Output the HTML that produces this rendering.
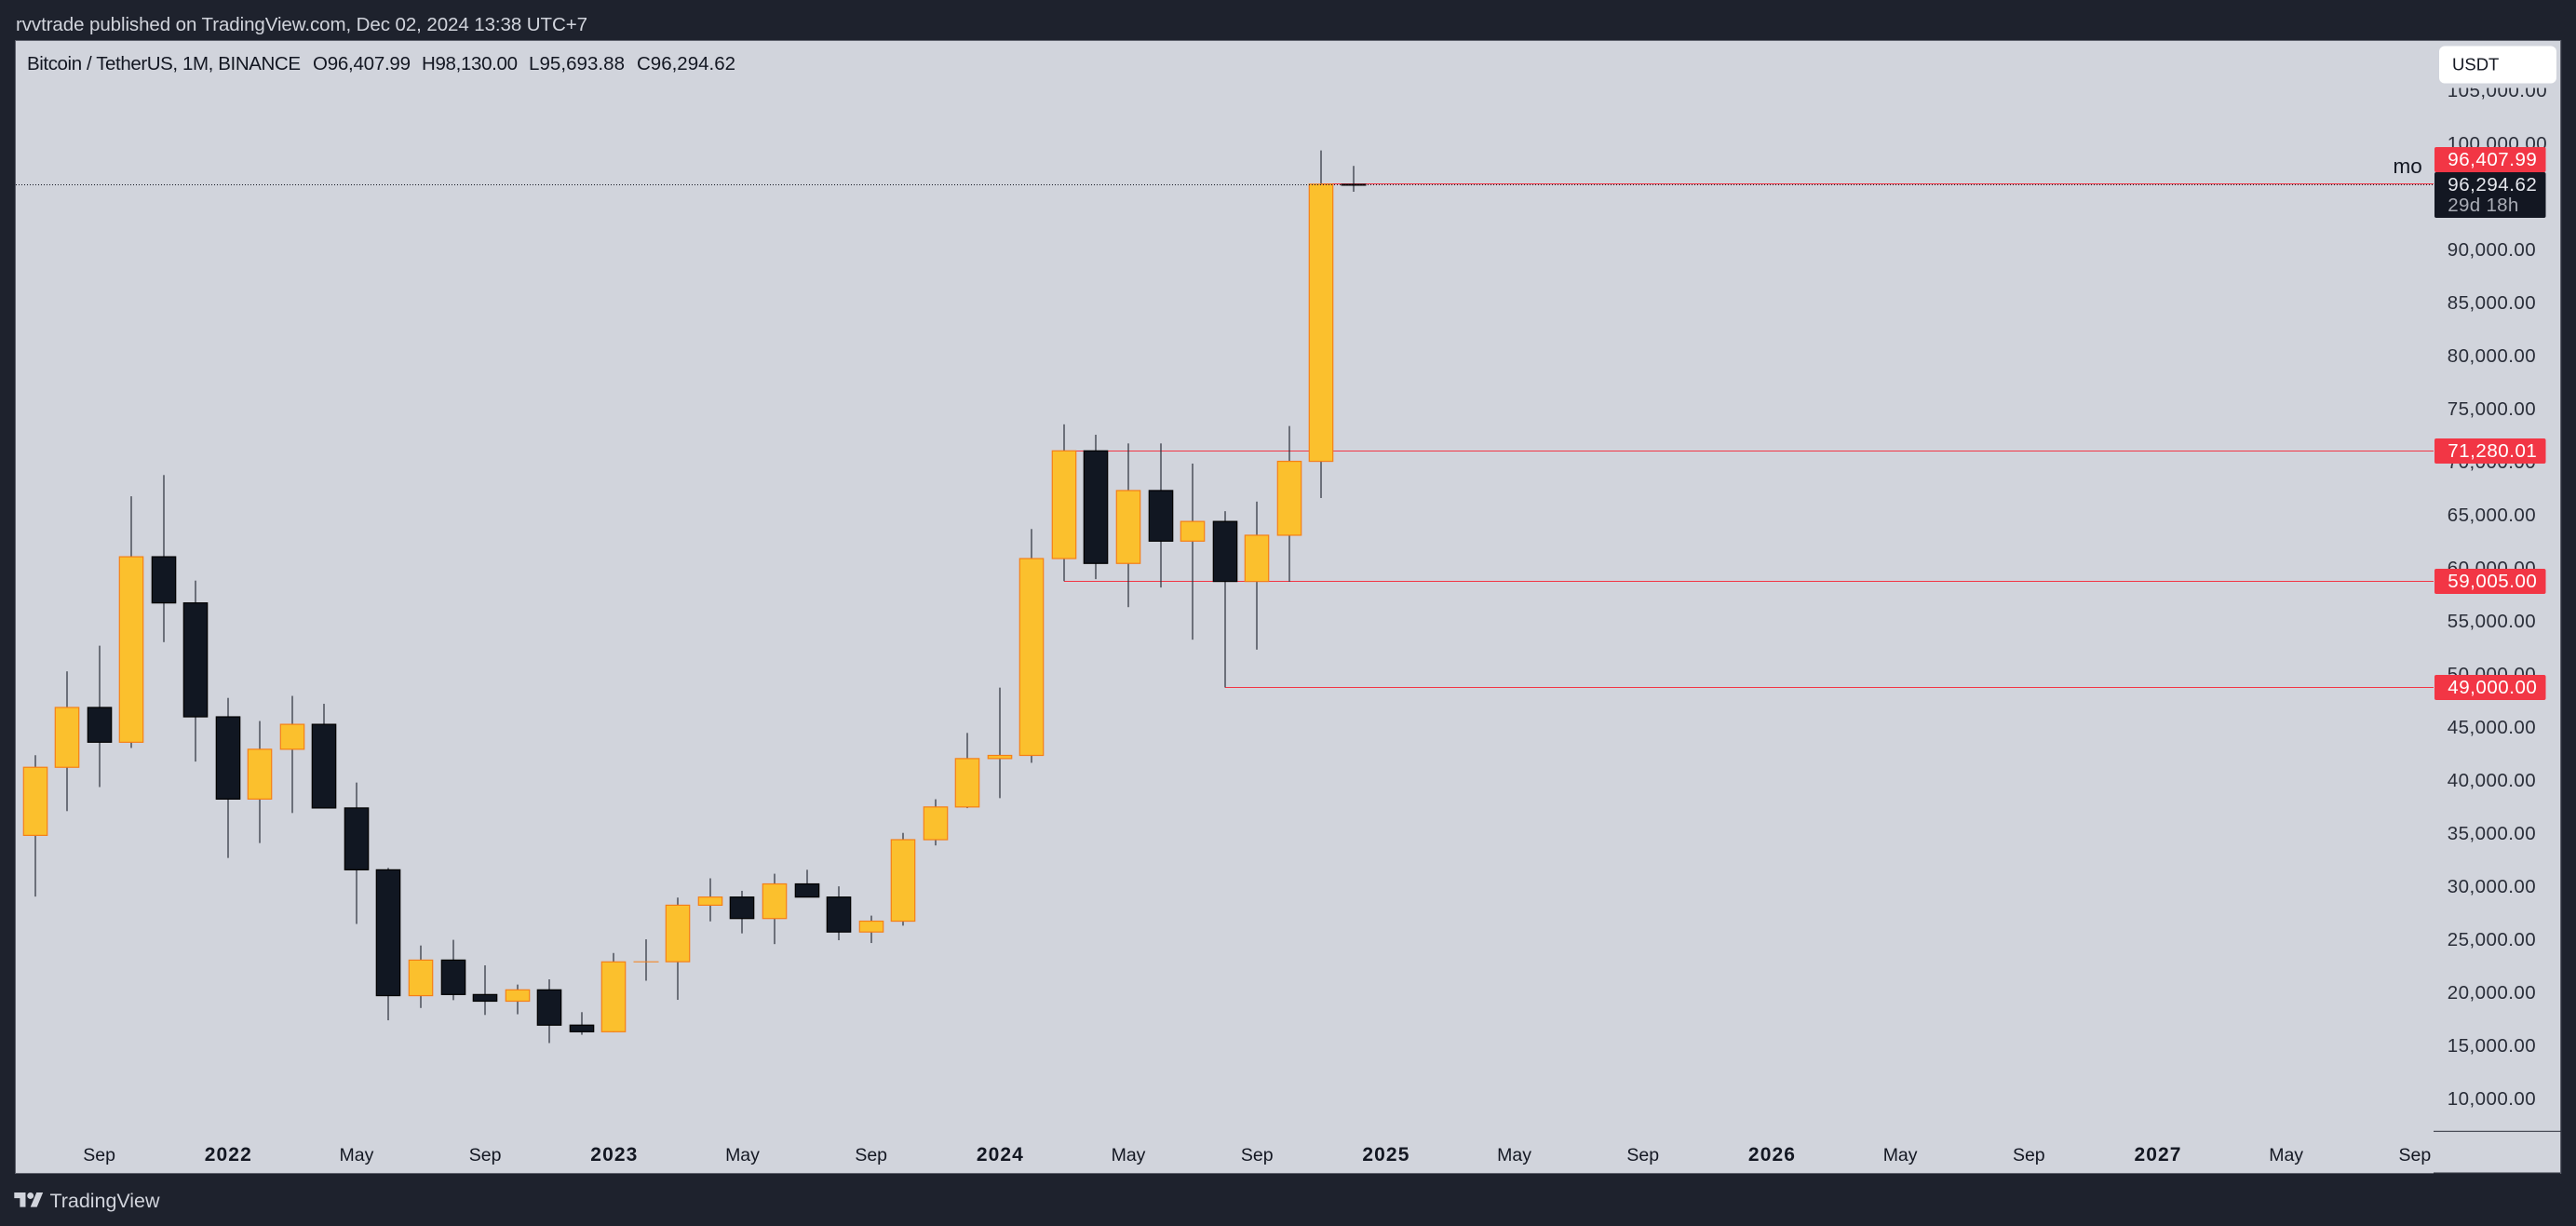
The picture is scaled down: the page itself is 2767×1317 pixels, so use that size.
<!DOCTYPE html>
<html lang="en">
<head>
<meta charset="utf-8">
<title>BTCUSDT monthly chart</title>
<style>
html,body{margin:0;padding:0;background:#1e222d;width:2767px;height:1317px;overflow:hidden}
svg{display:block;font-family:"Liberation Sans",sans-serif}
</style>
</head>
<body>
<svg id="chart" xmlns="http://www.w3.org/2000/svg" width="2767" height="1317" viewBox="0 0 2767 1317">
  <rect x="0" y="0" width="2767" height="1317" fill="#1e222d"/>
  <rect x="16.5" y="43.5" width="2734" height="1217" fill="#d1d4dc" stroke="#5d606b" stroke-width="1"/>
  <rect x="2614" y="1259.5" width="137" height="1.5" fill="#2a2e39"/>
  <rect x="2750" y="43" width="1.2" height="1218" fill="#5d606b"/>
  <text x="17" y="33" font-size="20.5" fill="#d1d4dc" textLength="614" lengthAdjust="spacing">rvvtrade published on TradingView.com, Dec 02, 2024 13:38 UTC+7</text>
  <g font-size="20.5" fill="#131722">
    <text x="29" y="75" textLength="294" lengthAdjust="spacing">Bitcoin / TetherUS, 1M, BINANCE</text>
    <text x="336" y="75" textLength="105" lengthAdjust="spacing">O96,407.99</text>
    <text x="453" y="75" textLength="103" lengthAdjust="spacing">H98,130.00</text>
    <text x="568" y="75" textLength="103" lengthAdjust="spacing">L95,693.88</text>
    <text x="684" y="75" textLength="106" lengthAdjust="spacing">C96,294.62</text>
  </g>
  <g id="levels"></g>
  <g id="candles"></g>
  <g id="last-line"></g>
  <g id="price-axis"></g>
  <g id="time-axis"></g>
  <rect x="2614" y="1214.8" width="137" height="1" fill="#2a2e39"/>
  <text x="2570.5" y="186" font-size="22.5" fill="#131722">mo</text>
  <rect x="2617" y="46" width="132" height="48.5" rx="8" fill="#d1d4dc"/>
  <rect x="2620" y="49.5" width="126" height="40" rx="6" fill="#ffffff"/>
  <text x="2634" y="75.5" font-size="18.5" fill="#131722">USDT</text>
  <g id="price-labels"></g>
  <g>
    <g transform="translate(15.3,1277.5) scale(0.87)" fill="#d1d4dc">
      <path d="M14 22H7V11H0V4h14v18zM28 22h-8l7.5-18h8L28 22z"/>
      <circle cx="20" cy="8" r="4"/>
    </g>
    <text x="53.5" y="1297" font-size="21.5" fill="#d1d4dc" textLength="118" lengthAdjust="spacing">TradingView</text>
  </g>
</svg>
<script>
// Monthly bars, Jul 2021 to Dec 2024
var categories = ["2021-07","2021-08","2021-09","2021-10","2021-11","2021-12","2022-01","2022-02","2022-03","2022-04","2022-05","2022-06","2022-07","2022-08","2022-09","2022-10","2022-11","2022-12","2023-01","2023-02","2023-03","2023-04","2023-05","2023-06","2023-07","2023-08","2023-09","2023-10","2023-11","2023-12","2024-01","2024-02","2024-03","2024-04","2024-05","2024-06","2024-07","2024-08","2024-09","2024-10","2024-11","2024-12"];
var opens  = [35045,41461,47100,43820,61300,56950,46216,38466,43160,45510,37630,31801,19942,23296,20048,19422,20490,17165,16542,23125,23141,28465,29233,27210,30472,29232,25940,26962,34639,37723,42283,42580,61130,71280,60672,67540,62772,64628,58973,63327,70292,96407.99];
var highs  = [42599,50500,52920,66999,69000,59053,48000,45821,48189,47444,40023,31982,24668,25202,22799,20988,21480,18387,23960,25250,29184,31000,29820,31431,31804,30244,27483,35280,38450,44700,48969,63913,73777,72797,71979,71980,70079,65593,66498,73620,99588,98130];
var lows   = [29278,37332,39600,43283,53256,42000,32917,34322,37155,37578,26700,17622,18781,19520,18125,18190,15476,16256,16499,21351,19549,26942,25811,24800,29500,25166,24901,26538,34097,37615,38555,41884,59005,59191,56552,58402,53485,49000,52550,58946,66835,95693.88];
var closes = [41462,47100,43824,61299,56950,46216,38466,43160,45510,37630,31801,19942,23293,20050,19422,20490,17163,16542,23125,23141,28465,29233,27210,30472,29232,25940,26962,34639,37723,42283,42580,61130,71280,60672,67540,62772,64628,58973,63327,70292,96408,96294.62];

// Axis tick labels
var priceTicks = [10000,15000,20000,25000,30000,35000,40000,45000,50000,55000,60000,65000,70000,75000,80000,85000,90000,95000,100000,105000];
var timeTickLabels = ["Sep","2022","May","Sep","2023","May","Sep","2024","May","Sep","2025","May","Sep","2026","May","Sep","2027","May","Sep"];
var timeTickStep = 4;
var timeTickFirst = 2;

// Marked levels and the bar each one starts from
var levelPrices = [96407.99,71280.01,59005.00,49000.00];
var levelStartBars = [40,32,32,37];
var lastPrice = 96294.62;
var countdownText = "29d 18h";

var SVGNS = "http://www.w3.org/2000/svg";
function xAt(i){ return 37.5 + 34.545 * i; }
function yAt(p){ return 738.3 - (p - 49000) * 0.0114; }
function fmt(v){ return v.toLocaleString("en-US",{minimumFractionDigits:2,maximumFractionDigits:2}); }
function make(tag, attrs, parent){
  var el = document.createElementNS(SVGNS, tag);
  for (var k in attrs) el.setAttribute(k, attrs[k]);
  parent.appendChild(el);
  return el;
}

var levelsG = document.getElementById("levels");
levelPrices.forEach(function(p,i){
  var ly = Math.round(yAt(p)) + 0.5 - (i === 0 ? 1 : 0);
  var ln = make("line",{x1:xAt(levelStartBars[i]),x2:2614,y1:ly,y2:ly,stroke:"#f23645","stroke-width":1},levelsG);
  
  
});

var candlesG = document.getElementById("candles");
categories.forEach(function(cat,i){
  var xc = Math.round(xAt(i));
  var up = closes[i] >= opens[i];
  var g = make("g",{},candlesG);
  
  
  var wick = make("rect",{x:xc-0.6,width:1.2,y:yAt(highs[i]),height:yAt(lows[i])-yAt(highs[i]),fill:"#2a2e39"},g);
  
  
  var top = yAt(Math.max(opens[i],closes[i]));
  var bot = yAt(Math.min(opens[i],closes[i]));
  var body;
  if (bot - top < 2) {
    body = make("rect",{x:xc-13.5,width:27,y:(top+bot)/2-(i===41?1:0.5),height:i===41?2:1,fill:i===41?"#000000":"#f57f17"},g);
  } else {
    body = make("rect",{x:xc-12.7,width:25.4,y:top,height:bot-top,fill:up?"#fbc02d":"#111722",stroke:up?"#f57f17":"#000000","stroke-width":1.2},g);
  }
  
  
});

var lastLineG = document.getElementById("last-line");
var dotted = make("line",{x1:17,x2:2614,y1:198.5,y2:198.5,stroke:"#131722","stroke-width":1,"stroke-dasharray":"1 2"},lastLineG);



var priceAxisG = document.getElementById("price-axis");
priceTicks.forEach(function(p){
  var t = make("text",{x:2628.7,y:yAt(p)+4,"font-size":20.5,fill:"#2a2e39",textLength:p>=100000?107:95,lengthAdjust:"spacing"},priceAxisG);
  t.textContent = fmt(p);
  
  
});

var timeAxisG = document.getElementById("time-axis");
timeTickLabels.forEach(function(label,i){
  var isYear = /^\d+$/.test(label);
  var t = make("text",{x:xAt(timeTickFirst + i*timeTickStep),y:1247,"text-anchor":"middle","font-size":isYear?21:19.5,"font-weight":isYear?"bold":"normal",fill:"#131722"},timeAxisG);
  if (isYear) { t.setAttribute("textLength",50); t.setAttribute("lengthAdjust","spacing"); }
  t.textContent = label;
  
  
});

var labelsG = document.getElementById("price-labels");
levelPrices.forEach(function(p,i){
  var top = Math.round(yAt(p)) - 13 - (i === 0 ? 27 : 0);
  var r = make("rect",{x:2615,y:top,width:119.5,height:27,rx:2,fill:"#f23645"},labelsG);
  
  
  var t = make("text",{x:2629.3,y:top+20,"font-size":20.5,fill:"#ffffff",textLength:95.5,lengthAdjust:"spacing"},labelsG);
  t.textContent = fmt(p);
  
  
});
var lastTop = Math.round(yAt(levelPrices[0])) - 13;
var lastBox = make("rect",{x:2615,y:lastTop,width:119.5,height:49,rx:2,fill:"#131722"},labelsG);


var lastText = make("text",{x:2629.3,y:lastTop+20,"font-size":20.5,fill:"#e6e8ee",textLength:95.5,lengthAdjust:"spacing"},labelsG);
lastText.textContent = fmt(lastPrice);


var cdText = make("text",{x:2629.3,y:lastTop+42,"font-size":20.5,fill:"#a9acb5",textLength:76,lengthAdjust:"spacing"},labelsG);
cdText.textContent = countdownText;


</script>
</body>
</html>
